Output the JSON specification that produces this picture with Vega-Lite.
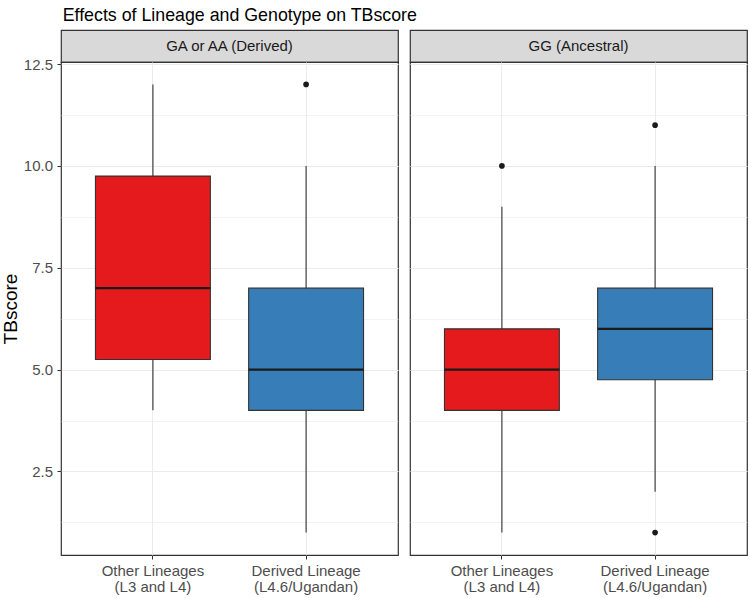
{
  "$schema": "https://vega.github.io/schema/vega-lite/v6.json",
  "background": "white",
  "padding": {"left": 0, "top": 6, "right": 3, "bottom": 4},
  "title": {"text": "Effects of Lineage and Genotype on TBscore", "anchor": "start", "fontSize": 17.8, "font": "Liberation Sans", "fontWeight": "normal", "color": "#000000", "offset": 5, "dx": 62},
  "config": {
    "font": "Liberation Sans",
    "view": {"stroke": "#333333", "strokeWidth": 1.2},
    "axis": {"domain": false, "tickColor": "#333333", "tickSize": 4, "labelColor": "#4d4d4d", "labelFontSize": 15, "labelFont": "Liberation Sans", "gridColor": "#ebebeb", "titleFont": "Liberation Sans", "titleFontSize": 19, "titleFontWeight": "normal", "titleColor": "#000000"}
  },
  "datasets": {
    "strips": [
      {"genotype": "GA or AA (Derived)"},
      {"genotype": "GG (Ancestral)"}
    ],
    "boxes": [
      {"genotype": "GA or AA (Derived)", "lineage": "Other Lineages", "lower": 4, "q1": 5.25, "median": 7, "q3": 9.75, "upper": 12},
      {"genotype": "GA or AA (Derived)", "lineage": "Derived Lineage", "lower": 1, "q1": 4, "median": 5, "q3": 7, "upper": 10},
      {"genotype": "GG (Ancestral)", "lineage": "Other Lineages", "lower": 1, "q1": 4, "median": 5, "q3": 6, "upper": 9},
      {"genotype": "GG (Ancestral)", "lineage": "Derived Lineage", "lower": 2, "q1": 4.75, "median": 6, "q3": 7, "upper": 10}
    ],
    "outliers": [
      {"genotype": "GA or AA (Derived)", "lineage": "Derived Lineage", "value": 12},
      {"genotype": "GG (Ancestral)", "lineage": "Other Lineages", "value": 10},
      {"genotype": "GG (Ancestral)", "lineage": "Derived Lineage", "value": 11},
      {"genotype": "GG (Ancestral)", "lineage": "Derived Lineage", "value": 1}
    ]
  },
  "spacing": 10,
  "hconcat": [
    {
      "spacing": 0,
      "bounds": "flush",
      "vconcat": [
        {
          "data": {"name": "strips"},
          "transform": [{"filter": "datum.genotype === 'GA or AA (Derived)'"}],
          "width": 337, "height": 32,
          "view": {"fill": "#d9d9d9", "stroke": "#333333", "strokeWidth": 1.2},
          "mark": {"type": "text", "fontSize": 15, "color": "#1a1a1a", "font": "Liberation Sans"},
          "encoding": {"text": {"field": "genotype"}}
        },
        {
          "width": 337, "height": 493,
          "layer": [
            {
              "data": {"name": "boxes"},
              "transform": [{"filter": "datum.genotype === 'GA or AA (Derived)'"}],
              "mark": {"type": "rule", "color": "#333333", "strokeWidth": 1.1},
              "encoding": {
                "x": {"field": "lineage", "type": "nominal", "sort": ["Other Lineages", "Derived Lineage"], "title": null,
                      "scale": {"paddingInner": 0.25, "paddingOuter": 0.225},
                      "axis": {"grid": true, "labelAngle": 0, "labelPadding": 4, "labelLineHeight": 16, "labelExpr": "datum.label === 'Other Lineages' ? ['Other Lineages', '(L3 and L4)'] : ['Derived Lineage', '(L4.6/Ugandan)']"}},
                "y": {"field": "lower", "type": "quantitative", "title": "TBscore",
                      "scale": {"domain": [0.45, 12.55], "nice": false, "zero": false},
                      "axis": {"values": [1.25, 2.5, 3.75, 5, 6.25, 7.5, 8.75, 10, 11.25, 12.5],
                               "labelExpr": "datum.value % 2.5 === 0 ? format(datum.value, '.1f') : ''",
                               "tickOpacity": {"condition": {"test": "datum.value % 2.5 !== 0", "value": 0}, "value": 1},
                               "gridWidth": {"condition": {"test": "datum.value % 2.5 !== 0", "value": 0.6}, "value": 1.1},
                               "labelPadding": 4.5, "titlePadding": 3}},
                "y2": {"field": "upper"}
              }
            },
            {
              "data": {"name": "boxes"},
              "transform": [{"filter": "datum.genotype === 'GA or AA (Derived)'"}],
              "mark": {"type": "bar", "stroke": "#333333", "strokeWidth": 1.1},
              "encoding": {
                "x": {"field": "lineage", "type": "nominal", "sort": ["Other Lineages", "Derived Lineage"]},
                "y": {"field": "q1", "type": "quantitative", "title": "TBscore"},
                "y2": {"field": "q3"},
                "color": {"field": "lineage", "type": "nominal", "scale": {"domain": ["Other Lineages", "Derived Lineage"], "range": ["#E41A1C", "#377EB8"]}, "legend": null}
              }
            },
            {
              "data": {"name": "boxes"},
              "transform": [{"filter": "datum.genotype === 'GA or AA (Derived)'"}],
              "mark": {"type": "bar", "fillOpacity": 0, "stroke": "#1a1a1a", "strokeWidth": 2.2},
              "encoding": {
                "x": {"field": "lineage", "type": "nominal", "sort": ["Other Lineages", "Derived Lineage"]},
                "y": {"field": "median", "type": "quantitative", "title": "TBscore"},
                "y2": {"field": "median"}
              }
            },
            {
              "data": {"name": "outliers"},
              "transform": [{"filter": "datum.genotype === 'GA or AA (Derived)'"}],
              "mark": {"type": "point", "filled": true, "color": "#1a1a1a", "opacity": 1, "size": 32},
              "encoding": {
                "x": {"field": "lineage", "type": "nominal", "sort": ["Other Lineages", "Derived Lineage"]},
                "y": {"field": "value", "type": "quantitative", "title": "TBscore"}
              }
            }
          ]
        }
      ]
    },
    {
      "spacing": 0,
      "bounds": "flush",
      "vconcat": [
        {
          "data": {"name": "strips"},
          "transform": [{"filter": "datum.genotype === 'GG (Ancestral)'"}],
          "width": 337, "height": 32,
          "view": {"fill": "#d9d9d9", "stroke": "#333333", "strokeWidth": 1.2},
          "mark": {"type": "text", "fontSize": 15, "color": "#1a1a1a", "font": "Liberation Sans"},
          "encoding": {"text": {"field": "genotype"}}
        },
        {
          "width": 337, "height": 493,
          "layer": [
            {
              "data": {"name": "boxes"},
              "transform": [{"filter": "datum.genotype === 'GG (Ancestral)'"}],
              "mark": {"type": "rule", "color": "#333333", "strokeWidth": 1.1},
              "encoding": {
                "x": {"field": "lineage", "type": "nominal", "sort": ["Other Lineages", "Derived Lineage"], "title": null,
                      "scale": {"paddingInner": 0.25, "paddingOuter": 0.225},
                      "axis": {"grid": true, "labelAngle": 0, "labelPadding": 4, "labelLineHeight": 16, "labelExpr": "datum.label === 'Other Lineages' ? ['Other Lineages', '(L3 and L4)'] : ['Derived Lineage', '(L4.6/Ugandan)']"}},
                "y": {"field": "lower", "type": "quantitative", "title": null,
                      "scale": {"domain": [0.45, 12.55], "nice": false, "zero": false},
                      "axis": {"values": [1.25, 2.5, 3.75, 5, 6.25, 7.5, 8.75, 10, 11.25, 12.5],
                               "labels": false, "ticks": false,
                               "gridWidth": {"condition": {"test": "datum.value % 2.5 !== 0", "value": 0.6}, "value": 1.1}}},
                "y2": {"field": "upper"}
              }
            },
            {
              "data": {"name": "boxes"},
              "transform": [{"filter": "datum.genotype === 'GG (Ancestral)'"}],
              "mark": {"type": "bar", "stroke": "#333333", "strokeWidth": 1.1},
              "encoding": {
                "x": {"field": "lineage", "type": "nominal", "sort": ["Other Lineages", "Derived Lineage"]},
                "y": {"field": "q1", "type": "quantitative", "title": null},
                "y2": {"field": "q3"},
                "color": {"field": "lineage", "type": "nominal", "scale": {"domain": ["Other Lineages", "Derived Lineage"], "range": ["#E41A1C", "#377EB8"]}, "legend": null}
              }
            },
            {
              "data": {"name": "boxes"},
              "transform": [{"filter": "datum.genotype === 'GG (Ancestral)'"}],
              "mark": {"type": "bar", "fillOpacity": 0, "stroke": "#1a1a1a", "strokeWidth": 2.2},
              "encoding": {
                "x": {"field": "lineage", "type": "nominal", "sort": ["Other Lineages", "Derived Lineage"]},
                "y": {"field": "median", "type": "quantitative", "title": null},
                "y2": {"field": "median"}
              }
            },
            {
              "data": {"name": "outliers"},
              "transform": [{"filter": "datum.genotype === 'GG (Ancestral)'"}],
              "mark": {"type": "point", "filled": true, "color": "#1a1a1a", "opacity": 1, "size": 32},
              "encoding": {
                "x": {"field": "lineage", "type": "nominal", "sort": ["Other Lineages", "Derived Lineage"]},
                "y": {"field": "value", "type": "quantitative", "title": null}
              }
            }
          ]
        }
      ]
    }
  ]
}
